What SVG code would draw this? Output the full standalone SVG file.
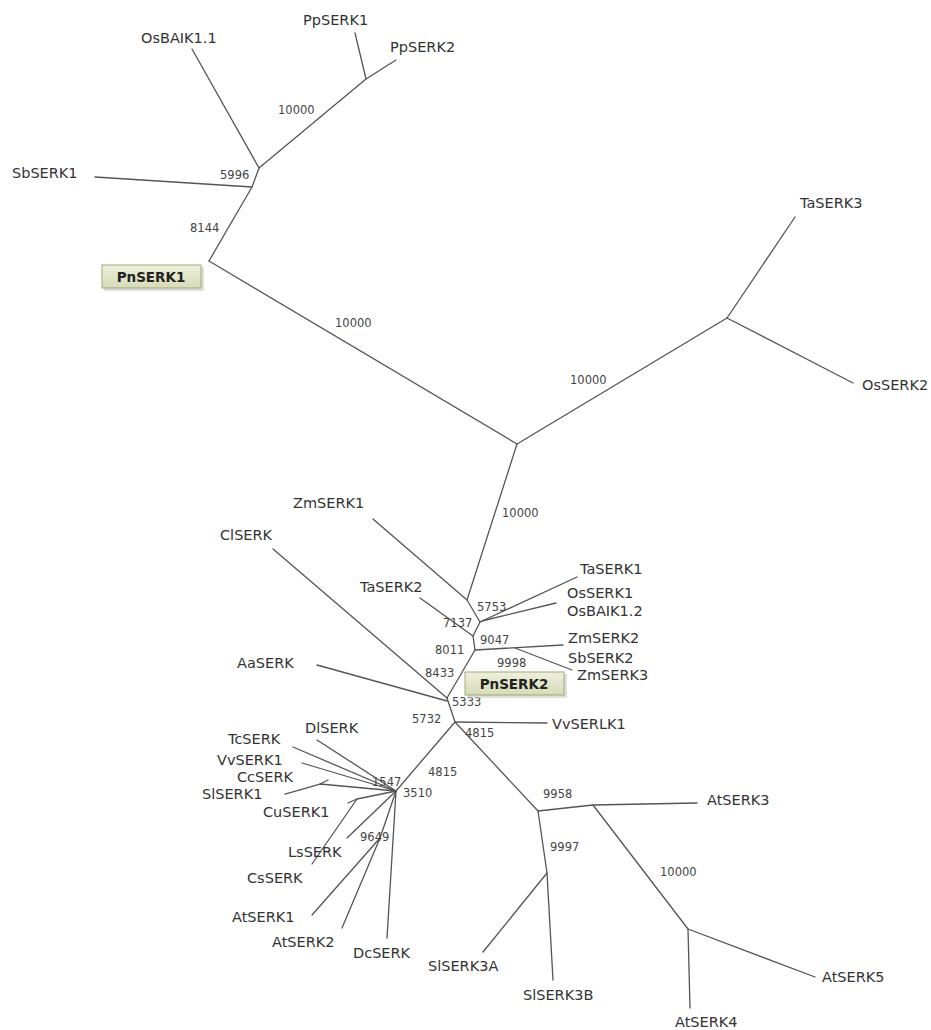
<svg xmlns="http://www.w3.org/2000/svg" width="931" height="1030" viewBox="0 0 931 1030">
<style>
.e{fill:none;stroke:#555;stroke-width:1.3;stroke-linecap:round;stroke-linejoin:round}
.t{font-family:"DejaVu Sans",sans-serif;font-size:14.5px;fill:#333}
.b{font-family:"DejaVu Sans",sans-serif;font-size:11.5px;fill:#444}
.hb{font-family:"DejaVu Sans",sans-serif;font-size:13.5px;font-weight:bold;fill:#222;text-anchor:middle}
.box{fill:url(#g);stroke:#a2a77f;stroke-width:1}
.sh{fill:#c9c9c0;opacity:0.6}
</style>
<defs>
<linearGradient id="g" x1="0" y1="0" x2="0" y2="1">
<stop offset="0" stop-color="#eef0dd"/>
<stop offset="1" stop-color="#d6dbb6"/>
</linearGradient>
</defs>
<rect width="931" height="1030" fill="#fff"/>
<g id="connectors">
<path class="e" d="M209 261 L252 187 L259 168"/>
<path class="e" d="M95 177 L252 187"/>
<path class="e" d="M192 49 L259 168"/>
<path class="e" d="M259 168 L366 79 L396 60"/>
<path class="e" d="M366 79 L355 33"/>
<path class="e" d="M209 261 L517 444"/>
<path class="e" d="M517 444 L727 318"/>
<path class="e" d="M727 318 L795 217"/>
<path class="e" d="M727 318 L853 383"/>
<path class="e" d="M517 444 L467 600"/>
<path class="e" d="M373 519 L467 600 L480 622"/>
<path class="e" d="M480 622 L577 577"/>
<path class="e" d="M482 621 L556 603"/>
<path class="e" d="M480 622 L473 636 L475 650"/>
<path class="e" d="M420 598 L473 636"/>
<path class="e" d="M475 650 L563 645"/>
<path class="e" d="M515 648 L572 670"/>
<path class="e" d="M475 650 L447 698"/>
<path class="e" d="M273 549 L447 698"/>
<path class="e" d="M317 665 L447 701"/>
<path class="e" d="M447 698 L455 722"/>
<path class="e" d="M455 722 L547 723"/>
<path class="e" d="M455 722 L396 791"/>
<path class="e" d="M455 722 L538 811 L593 805 L697 803"/>
<path class="e" d="M593 805 L688 929 L815 977"/>
<path class="e" d="M688 929 L690 1008"/>
<path class="e" d="M538 811 L547 873 L553 980"/>
<path class="e" d="M547 873 L483 952"/>
<path class="e" d="M317 740 L396 791"/>
<path class="e" d="M293 747 L396 791"/>
<path class="e" d="M302 763 L396 791"/>
<path class="e" d="M285 794 L320 784 L396 791"/>
<path class="e" d="M320 784 L328 780"/>
<path class="e" d="M312 864 L357 799 L396 791"/>
<path class="e" d="M357 799 L348 803"/>
<path class="e" d="M347 838 L396 791"/>
<path class="e" d="M312 915 L380 838"/>
<path class="e" d="M342 928 L380 838 L396 791"/>
<path class="e" d="M387 938 L396 791"/>
</g>
<g id="support-values">
<text class="b" x="278" y="114">10000</text>
<text class="b" x="220" y="179">5996</text>
<text class="b" x="190" y="232">8144</text>
<text class="b" x="335" y="327">10000</text>
<text class="b" x="570" y="384">10000</text>
<text class="b" x="502" y="517">10000</text>
<text class="b" x="477" y="611">5753</text>
<text class="b" x="443" y="627">7137</text>
<text class="b" x="480" y="644">9047</text>
<text class="b" x="435" y="654">8011</text>
<text class="b" x="497" y="667">9998</text>
<text class="b" x="425" y="677">8433</text>
<text class="b" x="452" y="706">5333</text>
<text class="b" x="412" y="723">5732</text>
<text class="b" x="465" y="737">4815</text>
<text class="b" x="428" y="776">4815</text>
<text class="b" x="372" y="786">1547</text>
<text class="b" x="403" y="797">3510</text>
<text class="b" x="360" y="841">9649</text>
<text class="b" x="543" y="798">9958</text>
<text class="b" x="550" y="851">9997</text>
<text class="b" x="660" y="876">10000</text>
</g>
<g id="PnSERK1">
<rect class="sh" x="104" y="267" width="100" height="24"/>
<rect class="box" x="102" y="265" width="99" height="23"/>
<text class="hb" x="151" y="282">PnSERK1</text>
</g>
<g id="PnSERK2">
<rect class="sh" x="467" y="674" width="100" height="24"/>
<rect class="box" x="465" y="672" width="99" height="23"/>
<text class="hb" x="514" y="689">PnSERK2</text>
</g>
<g id="OsBAIK1.1"><text class="t" x="141" y="43">OsBAIK1.1</text></g>
<g id="PpSERK1"><text class="t" x="303" y="25">PpSERK1</text></g>
<g id="PpSERK2"><text class="t" x="390" y="52">PpSERK2</text></g>
<g id="SbSERK1"><text class="t" x="12" y="178">SbSERK1</text></g>
<g id="TaSERK3"><text class="t" x="800" y="208">TaSERK3</text></g>
<g id="OsSERK2"><text class="t" x="862" y="390">OsSERK2</text></g>
<g id="ZmSERK1"><text class="t" x="293" y="508">ZmSERK1</text></g>
<g id="ClSERK"><text class="t" x="220" y="540">ClSERK</text></g>
<g id="TaSERK2"><text class="t" x="360" y="592">TaSERK2</text></g>
<g id="TaSERK1"><text class="t" x="580" y="574">TaSERK1</text></g>
<g id="OsSERK1"><text class="t" x="567" y="598">OsSERK1</text></g>
<g id="OsBAIK1.2"><text class="t" x="567" y="616">OsBAIK1.2</text></g>
<g id="ZmSERK2"><text class="t" x="568" y="643">ZmSERK2</text></g>
<g id="SbSERK2"><text class="t" x="568" y="663">SbSERK2</text></g>
<g id="ZmSERK3"><text class="t" x="577" y="680">ZmSERK3</text></g>
<g id="AaSERK"><text class="t" x="237" y="668">AaSERK</text></g>
<g id="VvSERLK1"><text class="t" x="552" y="729">VvSERLK1</text></g>
<g id="DlSERK"><text class="t" x="305" y="733">DlSERK</text></g>
<g id="TcSERK"><text class="t" x="228" y="744">TcSERK</text></g>
<g id="VvSERK1"><text class="t" x="217" y="765">VvSERK1</text></g>
<g id="CcSERK"><text class="t" x="237" y="782">CcSERK</text></g>
<g id="SlSERK1"><text class="t" x="202" y="799">SlSERK1</text></g>
<g id="CuSERK1"><text class="t" x="263" y="817">CuSERK1</text></g>
<g id="LsSERK"><text class="t" x="288" y="857">LsSERK</text></g>
<g id="CsSERK"><text class="t" x="247" y="883">CsSERK</text></g>
<g id="AtSERK1"><text class="t" x="232" y="922">AtSERK1</text></g>
<g id="AtSERK2"><text class="t" x="272" y="947">AtSERK2</text></g>
<g id="DcSERK"><text class="t" x="353" y="958">DcSERK</text></g>
<g id="AtSERK3"><text class="t" x="707" y="805">AtSERK3</text></g>
<g id="SlSERK3A"><text class="t" x="428" y="971">SlSERK3A</text></g>
<g id="SlSERK3B"><text class="t" x="523" y="1000">SlSERK3B</text></g>
<g id="AtSERK5"><text class="t" x="822" y="982">AtSERK5</text></g>
<g id="AtSERK4"><text class="t" x="675" y="1027">AtSERK4</text></g>
</svg>
